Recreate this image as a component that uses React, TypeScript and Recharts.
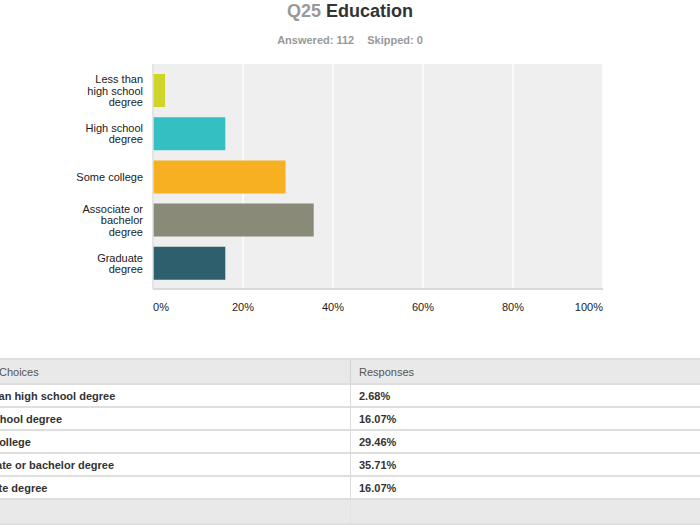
import { BarChart, Bar, XAxis, YAxis, CartesianGrid, Cell } from 'recharts';

const categories = [
  "Less than high school degree",
  "High school degree",
  "Some college",
  "Associate or bachelor degree",
  "Graduate degree",
];

// wrapped axis labels, as in the picture
const tickLines = [
  ["Less than", "high school", "degree"],
  ["High school", "degree"],
  ["Some college"],
  ["Associate or", "bachelor", "degree"],
  ["Graduate", "degree"],
];

const responses = [2.68, 16.07, 29.46, 35.71, 16.07];

const barColors = ["#cfd428", "#34bfc2", "#f6b021", "#8a8a79", "#2e5f6c"];

const xTicks = [0, 20, 40, 60, 80, 100];

const data = categories.map((name, i) => ({ name, value: responses[i], idx: i }));

const font = "Helvetica, Arial, 'Liberation Sans', sans-serif";

function YTick(props: any) {
  const { x, y, index } = props;
  const lines = tickLines[index] || [];
  const lh = 11.3;
  const start = y - ((lines.length - 1) * lh) / 2;
  const tx = x - 4;
  return (
    <text x={tx} y={start} textAnchor="end" fontSize={11} fill="#222" fontFamily={font} dominantBaseline="central">
      {lines.map((l, i) => (
        <tspan key={i} x={tx} y={start + i * lh}>{l}</tspan>
      ))}
    </text>
  );
}

function XTick(props: any) {
  const { x, y, index, payload } = props;
  const anchor = index === 0 ? "start" : index === xTicks.length - 1 ? "end" : "middle";
  return (
    <text x={x} y={y + 10} textAnchor={anchor} fontSize={11} fill="#222" stroke="none" fontFamily={font} dominantBaseline="central">
      {payload.value}%
    </text>
  );
}

export default function App() {
  const rowH = 23;
  return (
    <div style={{ position: "absolute", left: 0, top: 0, width: 700, height: 525, overflow: "hidden", background: "#fff", fontFamily: font }}>
      <div style={{ position: "absolute", top: 0, left: 0, width: 700, textAlign: "center", fontSize: 18, fontWeight: "bold", lineHeight: "22px" }}>
        <span style={{ color: "#999" }}>Q25</span> <span style={{ color: "#333" }}>Education</span>
      </div>
      <div style={{ position: "absolute", top: 33, left: 0, width: 700, textAlign: "center", fontSize: 11, fontWeight: "bold", color: "#999", lineHeight: "14px" }}>
        Answered: 112<span style={{ display: "inline-block", width: 13 }} />Skipped: 0
      </div>

      <div style={{ position: "absolute", top: 0, left: 0 }}>
        <BarChart
          width={700}
          height={330}
          data={data}
          layout="vertical"
          margin={{ top: 64, right: 97, bottom: 11, left: 0 }}
        >
          <CartesianGrid horizontal={false} vertical={true} stroke="#ffffff" strokeWidth={1.5} fill="#efefef" />
          <XAxis
            type="number"
            domain={[0, 100]}
            ticks={xTicks}
            tick={<XTick />}
            tickLine={false}
            axisLine={{ stroke: "#d9d9d9", strokeWidth: 2 }}
            height={30}
            interval={0}
          />
          <YAxis
            type="category"
            dataKey="name"
            width={153}
            tick={<YTick />}
            tickLine={false}
            tickMargin={0}
            padding={{ top: 5, bottom: 4 }}
            axisLine={{ stroke: "#dcdcdc", strokeWidth: 1.5 }}
            interval={0}
          />
          <Bar dataKey="value" barSize={33} isAnimationActive={false}>
            {data.map((d) => (
              <Cell key={d.name} fill={barColors[d.idx]} />
            ))}
          </Bar>
        </BarChart>
      </div>

      <div style={{ position: "absolute", top: 358, left: 0, width: 700 }}>
        <div style={{ height: rowH, background: "#e9e9e9", borderTop: "2px solid #dedede", borderBottom: "2px solid #dedede", position: "relative", fontSize: 11, color: "#555" }}>
          <span style={{ position: "absolute", left: -1, top: 6 }}>Choices</span>
          <div style={{ position: "absolute", left: 350, top: 0, bottom: 0, borderLeft: "1px solid #d4d4d4" }} />
          <span style={{ position: "absolute", left: 359, top: 6 }}>Responses</span>
        </div>
        {categories.map((c, i) => (
          <div key={c} style={{ height: rowH - 2, borderBottom: "2px solid #dedede", position: "relative", fontSize: 11, fontWeight: "bold", color: "#333", background: "#fff", whiteSpace: "nowrap" }}>
            <span style={{ position: "absolute", left: -40, top: 5 }}>{c}</span>
            <div style={{ position: "absolute", left: 350, top: 0, bottom: 0, borderLeft: "1px solid #dcdcdc" }} />
            <span style={{ position: "absolute", left: 359, top: 5 }}>{responses[i].toFixed(2)}%</span>
          </div>
        ))}
        <div style={{ height: rowH, background: "#e9e9e9", borderBottom: "2px solid #dedede", position: "relative" }}>
          <div style={{ position: "absolute", left: 350, top: 0, bottom: 0, borderLeft: "1px solid #e2e2e2" }} />
        </div>
      </div>
    </div>
  );
}
